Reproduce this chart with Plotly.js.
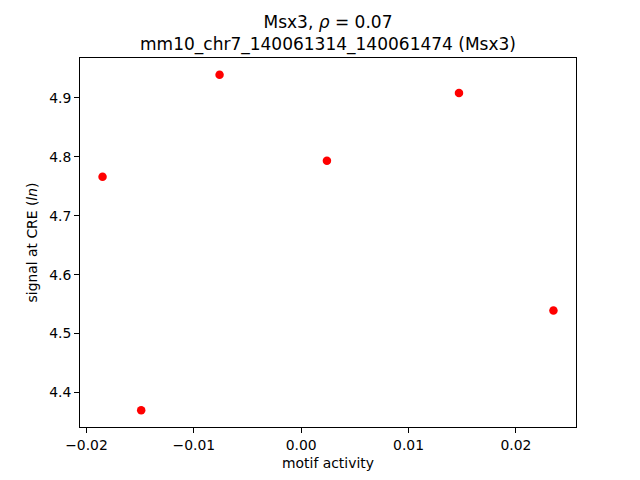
<!DOCTYPE html>
<html>
<head>
<meta charset="utf-8">
<script src="https://cdn.plot.ly/plotly-3.0.1.min.js"></script>
<style>html,body{margin:0;padding:0;background:#fff;}#chart{width:640px;height:480px;}</style>
</head>
<body>
<div id="chart"></div>
<script>
const motifActivity = [-0.0185, -0.0149, -0.0076, 0.0024, 0.0147, 0.0235];
const signalAtCRE = [4.766, 4.370, 4.939, 4.793, 4.908, 4.539];
const xTicks = [-0.02, -0.01, 0.00, 0.01, 0.02];
const xTickLabels = ["\u22120.02", "\u22120.01", "0.00", "0.01", "0.02"];
const yTicks = [4.4, 4.5, 4.6, 4.7, 4.8, 4.9];
const yTickLabels = ["4.4", "4.5", "4.6", "4.7", "4.8", "4.9"];

function padRange(arr, f) {
  const mn = Math.min(...arr), mx = Math.max(...arr);
  const d = (mx - mn) * f;
  return [mn - d, mx + d];
}

const font = {family: "DejaVu Sans, sans-serif", size: 13.9, color: "#000"};

const trace = {
  x: motifActivity,
  y: signalAtCRE,
  type: "scatter",
  mode: "markers",
  marker: {color: "#ff0000", size: 8.5, line: {width: 0}},
  hoverinfo: "none"
};

const axisCommon = {
  showgrid: false,
  zeroline: false,
  showline: true,
  mirror: true,
  linecolor: "#000",
  linewidth: 1,
  ticks: "outside",
  ticklen: 5,
  tickwidth: 1,
  tickcolor: "#000",
  tickfont: font
};

const layout = {
  width: 640,
  height: 480,
  paper_bgcolor: "#fff",
  plot_bgcolor: "#fff",
  showlegend: false,
  margin: {l: 80, r: 64, t: 58, b: 53, pad: 0},
  font: font,
  title: {
    text: "Msx3, <i>\u03c1</i> = 0.07<br>mm10_chr7_140061314_140061474 (Msx3)",
    font: {family: "DejaVu Sans, sans-serif", size: 17, color: "#000"},
    x: 328 / 640, xref: "container", xanchor: "center",
    y: 1 - 28 / 480, yref: "container", yanchor: "top"
  },
  xaxis: Object.assign({}, axisCommon, {
    range: padRange(motifActivity, 0.05),
    tickvals: xTicks,
    ticktext: xTickLabels,
    title: {text: "motif activity", font: font, standoff: 6}
  }),
  yaxis: Object.assign({}, axisCommon, {
    range: padRange(signalAtCRE, 0.05),
    tickvals: yTicks,
    ticktext: yTickLabels,
    title: {text: "signal at CRE (<i>ln</i>)", font: font, standoff: 8}
  })
};

Plotly.newPlot("chart", [trace], layout, {displayModeBar: false, staticPlot: true});
</script>
</body>
</html>
